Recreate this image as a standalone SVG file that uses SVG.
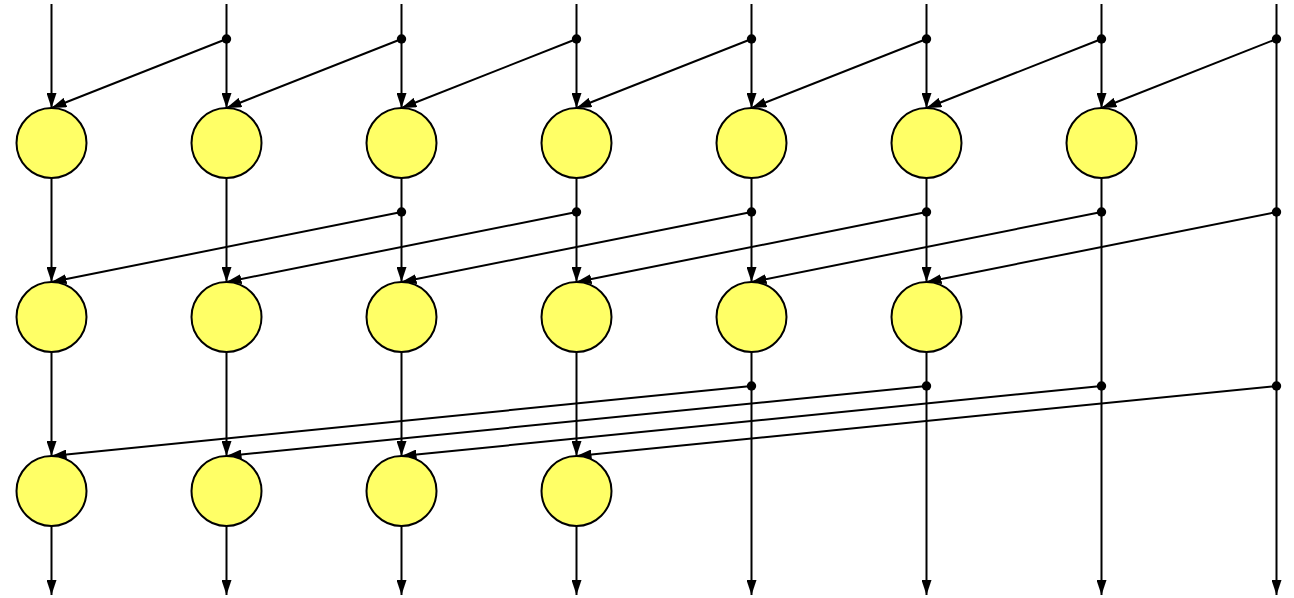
<svg xmlns="http://www.w3.org/2000/svg" width="1294" height="598" viewBox="0 0 1294 598">
<style>
.n{fill:#ffff66;stroke:#000;stroke-width:2}
.e{stroke:#000;stroke-width:2;fill:none;marker-end:url(#a)}
.l{stroke:#000;stroke-width:2;fill:none}
.d{fill:#000}
</style>
<defs>
<marker id="a" markerUnits="userSpaceOnUse" markerWidth="15" markerHeight="10" refX="15" refY="5" orient="auto" viewBox="0 0 15 10">
<path d="M0,0L15,5L0,10z" fill="#000"/>
</marker>
</defs>
<rect width="1294" height="598" fill="#fff"/>
<g id="connectors">
<!-- stage 1 verticals -->
<path class="e" d="M51.5,4V108"/>
<path class="e" d="M226.5,4V108"/>
<path class="e" d="M401.5,4V108"/>
<path class="e" d="M576.5,4V108"/>
<path class="e" d="M751.5,4V108"/>
<path class="e" d="M926.5,4V108"/>
<path class="e" d="M1101.5,4V108"/>
<path class="e" d="M1276.5,4V595"/>
<!-- stage 1 diagonals -->
<path class="e" d="M226.5,39L51.5,108"/>
<path class="e" d="M401.5,39L226.5,108"/>
<path class="e" d="M576.5,39L401.5,108"/>
<path class="e" d="M751.5,39L576.5,108"/>
<path class="e" d="M926.5,39L751.5,108"/>
<path class="e" d="M1101.5,39L926.5,108"/>
<path class="e" d="M1276.5,39L1101.5,108"/>
<!-- stage 2 verticals -->
<path class="e" d="M51.5,178V282"/>
<path class="e" d="M226.5,178V282"/>
<path class="e" d="M401.5,178V282"/>
<path class="e" d="M576.5,178V282"/>
<path class="e" d="M751.5,178V282"/>
<path class="e" d="M926.5,178V282"/>
<path class="e" d="M1101.5,178V595"/>
<!-- stage 2 diagonals -->
<path class="e" d="M401.5,212L51.5,282"/>
<path class="e" d="M576.5,212L226.5,282"/>
<path class="e" d="M751.5,212L401.5,282"/>
<path class="e" d="M926.5,212L576.5,282"/>
<path class="e" d="M1101.5,212L751.5,282"/>
<path class="e" d="M1276.5,212L926.5,282"/>
<!-- stage 3 verticals -->
<path class="e" d="M51.5,352V456"/>
<path class="e" d="M226.5,352V456"/>
<path class="e" d="M401.5,352V456"/>
<path class="e" d="M576.5,352V456"/>
<path class="e" d="M751.5,352V595"/>
<path class="e" d="M926.5,352V595"/>
<!-- stage 3 diagonals -->
<path class="e" d="M751.5,386L51.5,456"/>
<path class="e" d="M926.5,386L226.5,456"/>
<path class="e" d="M1101.5,386L401.5,456"/>
<path class="e" d="M1276.5,386L576.5,456"/>
<!-- outputs -->
<path class="e" d="M51.5,526V595"/>
<path class="e" d="M226.5,526V595"/>
<path class="e" d="M401.5,526V595"/>
<path class="e" d="M576.5,526V595"/>
<!-- dots -->
<circle class="d" cx="226.5" cy="39" r="4.7"/>
<circle class="d" cx="401.5" cy="39" r="4.7"/>
<circle class="d" cx="576.5" cy="39" r="4.7"/>
<circle class="d" cx="751.5" cy="39" r="4.7"/>
<circle class="d" cx="926.5" cy="39" r="4.7"/>
<circle class="d" cx="1101.5" cy="39" r="4.7"/>
<circle class="d" cx="1276.5" cy="39" r="4.7"/>
<circle class="d" cx="401.5" cy="212" r="4.7"/>
<circle class="d" cx="576.5" cy="212" r="4.7"/>
<circle class="d" cx="751.5" cy="212" r="4.7"/>
<circle class="d" cx="926.5" cy="212" r="4.7"/>
<circle class="d" cx="1101.5" cy="212" r="4.7"/>
<circle class="d" cx="1276.5" cy="212" r="4.7"/>
<circle class="d" cx="751.5" cy="386" r="4.7"/>
<circle class="d" cx="926.5" cy="386" r="4.7"/>
<circle class="d" cx="1101.5" cy="386" r="4.7"/>
<circle class="d" cx="1276.5" cy="386" r="4.7"/>
</g>
<g id="r1c0"><circle class="n" cx="51.5" cy="143" r="35"/></g>
<g id="r1c1"><circle class="n" cx="226.5" cy="143" r="35"/></g>
<g id="r1c2"><circle class="n" cx="401.5" cy="143" r="35"/></g>
<g id="r1c3"><circle class="n" cx="576.5" cy="143" r="35"/></g>
<g id="r1c4"><circle class="n" cx="751.5" cy="143" r="35"/></g>
<g id="r1c5"><circle class="n" cx="926.5" cy="143" r="35"/></g>
<g id="r1c6"><circle class="n" cx="1101.5" cy="143" r="35"/></g>
<g id="r2c0"><circle class="n" cx="51.5" cy="317" r="35"/></g>
<g id="r2c1"><circle class="n" cx="226.5" cy="317" r="35"/></g>
<g id="r2c2"><circle class="n" cx="401.5" cy="317" r="35"/></g>
<g id="r2c3"><circle class="n" cx="576.5" cy="317" r="35"/></g>
<g id="r2c4"><circle class="n" cx="751.5" cy="317" r="35"/></g>
<g id="r2c5"><circle class="n" cx="926.5" cy="317" r="35"/></g>
<g id="r3c0"><circle class="n" cx="51.5" cy="491" r="35"/></g>
<g id="r3c1"><circle class="n" cx="226.5" cy="491" r="35"/></g>
<g id="r3c2"><circle class="n" cx="401.5" cy="491" r="35"/></g>
<g id="r3c3"><circle class="n" cx="576.5" cy="491" r="35"/></g>
</svg>
